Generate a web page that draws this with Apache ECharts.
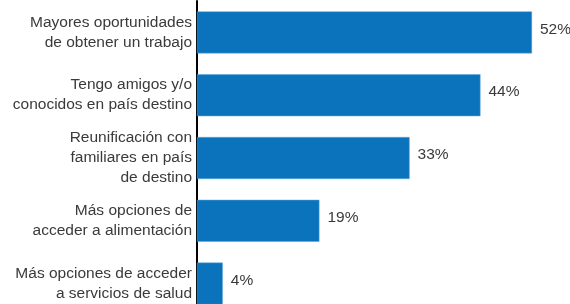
<!DOCTYPE html>
<html>
<head>
<meta charset="utf-8">
<script src="https://cdn.jsdelivr.net/npm/echarts@6/dist/echarts.min.js"></script>
<style>
html,body{margin:0;padding:0;background:#fff;overflow:hidden;}
#main{width:570px;height:316px;}
</style>
</head>
<body>
<div id="main"></div>
<script>
var categories = [
    'Mayores oportunidades\nde obtener un trabajo',
    'Tengo amigos y/o\nconocidos en país destino',
    'Reunificación con\nfamiliares en país\nde destino',
    'Más opciones de\nacceder a alimentación',
    'Más opciones de acceder\na servicios de salud'
];
var values = [52, 44, 33, 19, 4];

var chart = echarts.init(document.getElementById('main'));
chart.setOption({
    animation: false,
    grid: {left: 197, width: 335, top: 1, height: 314, containLabel: false},
    xAxis: {
        type: 'value', min: 0, max: 52,
        show: false
    },
    yAxis: {
        type: 'category', data: categories, inverse: true,
        axisLine: {show: true, lineStyle: {color: '#000', width: 2}},
        axisTick: {show: false},
        axisLabel: {
            color: '#3a3a3a', fontSize: 15.5, lineHeight: 20,
            fontFamily: 'Liberation Sans, Arial, sans-serif',
            align: 'right', margin: 5, padding: [0, 0, 7, 0]
        }
    },
    series: [{
        type: 'bar', data: values, barWidth: 42,
        itemStyle: {color: '#0b73bb', borderColor: '#5aa6dc', borderWidth: 0.5},
        label: {
            show: true, position: 'right', distance: 8, offset: [0, -3],
            formatter: '{c}%', color: '#3a3a3a', fontSize: 15.5,
            fontFamily: 'Liberation Sans, Arial, sans-serif'
        }
    }]
});
</script>
</body>
</html>
